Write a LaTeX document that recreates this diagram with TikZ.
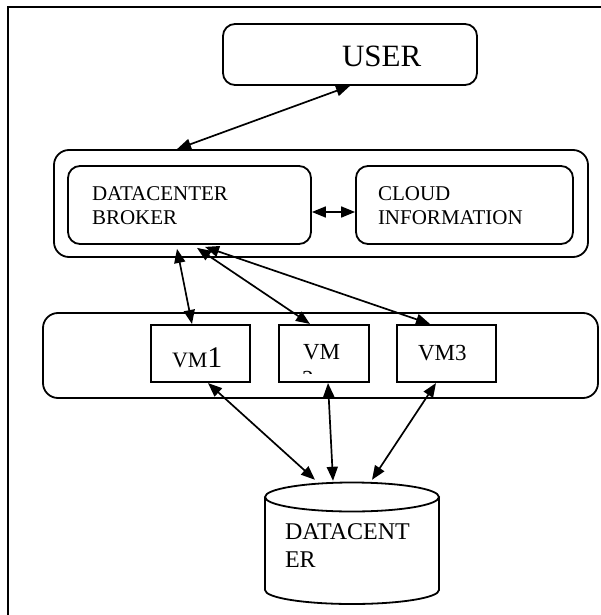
\documentclass[tikz,border=0pt]{standalone}
\usepackage{fontspec}
\setmainfont{Liberation Serif}
\usetikzlibrary{arrows.meta,calc}
\begin{document}
\begin{tikzpicture}[x=1pt,y=-1pt,
  box/.style={draw, line width=1.8pt, inner sep=0pt, rounded corners=12pt},
  vmbox/.style={draw, line width=2.1pt, inner sep=0pt, minimum height=57pt},
  lbl/.style={anchor=base west, inner sep=0pt, outer sep=0pt},
  conn/.style={line width=1.7pt, {Triangle[length=14pt,width=11pt]}-{Triangle[length=14pt,width=11pt]}},
  fa/.style={font=\fontsize{21}{24}\selectfont},
  fvm/.style={font=\fontsize{23}{26}\selectfont}]
\useasboundingbox (0,0) rectangle (601,615);
% outer frame (cut at right and bottom)
\draw[line width=2.2pt] (8,625) -- (8,7) -- (610,7);

% boxes
\node[box, minimum width=254pt, minimum height=61pt] (user) at (350,54.5) {};
\node[box, rounded corners=15pt, minimum width=534pt, minimum height=107pt] (mid) at (321,203.5) {};
\node[box, minimum width=243pt, minimum height=78pt] (broker) at (189.5,205) {};
\node[box, minimum width=217pt, minimum height=78pt] (cloud) at (464.5,205) {};
\node[box, rounded corners=15pt, minimum width=555pt, minimum height=85pt] (lower) at (320.5,355.5) {};
\node[vmbox, minimum width=99pt] (vm1) at (200.5,353.5) {};
\node[vmbox, minimum width=90pt] (vm2) at (324,353.5) {};
\node[vmbox, minimum width=99pt] (vm3) at (446.5,353.5) {};

% datacenter cylinder
\node[inner sep=0pt, minimum width=174pt, minimum height=122pt] (dc) at (352,543) {};
\draw[line width=1.8pt] (352,497) ellipse[x radius=87, y radius=14.5];
\draw[line width=1.8pt] (265,497) -- (265,590) arc[start angle=180, end angle=0, x radius=87, y radius=14] -- (439,497);

% texts
\node[lbl, font=\fontsize{31}{34}\selectfont] (tuser) at (342,67) {USER};
\node[lbl, fa] (tbroker1) at (92,200) {DATACENTER};
\node[lbl, fa] (tbroker2) at (92,224) {BROKER};
\node[lbl, fa] (tcloud1) at (378,200) {CLOUD};
\node[lbl, fa] (tcloud2) at (378,224) {INFORMATION};
\node[lbl, font=\fontsize{22}{26}\selectfont] (tvm1) at (172,367) {VM\fontsize{30}{34}\selectfont 1};
\node[lbl, fvm] (tvm2) at (303,359) {VM};
\begin{scope}
  \clip (279,325) rectangle (369,373);
  \node[lbl, fvm] (tvm2b) at (302,386) {2};
\end{scope}
\node[lbl, fvm] (tvm3) at (418,360) {VM3};
\node[lbl, font=\fontsize{24}{28}\selectfont] (tdc1) at (285,539) {DATACENT};
\node[lbl, font=\fontsize{24}{28}\selectfont] (tdc2) at (285,567) {ER};

% connectors
\draw[conn] (user.south) -- ([xshift=-144pt]mid.north);
\draw[conn] ([yshift=-7pt]broker.east) -- ([yshift=-7pt]cloud.west);
\draw[conn] ([xshift=-12.5pt,yshift=-4pt]broker.south) -- ([xshift=-8.5pt]vm1.north);
\draw[conn] ([xshift=7.5pt,yshift=-3pt]broker.south) -- ([xshift=-14pt]vm2.north);
\draw[conn] ([xshift=15.5pt,yshift=-2pt]broker.south) -- ([xshift=-16.5pt]vm3.north);
\draw[conn] ([xshift=7.5pt]vm1.south) -- ([xshift=-37pt,yshift=2pt]dc.north);
\draw[conn] ([xshift=4pt]vm2.south) -- ([xshift=-19pt,yshift=1pt]dc.north);
\draw[conn] ([xshift=-10.5pt]vm3.south) -- ([xshift=20pt,yshift=2pt]dc.north);
\end{tikzpicture}
\end{document}
